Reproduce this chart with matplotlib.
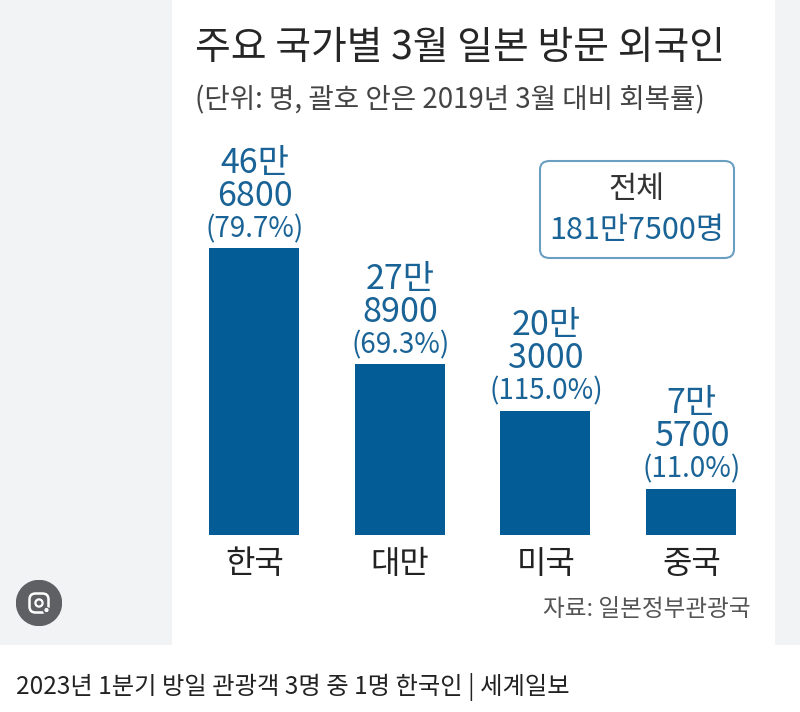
import matplotlib
matplotlib.use("Agg")
import matplotlib.pyplot as plt
from matplotlib.patches import Rectangle, FancyBboxPatch, Circle

plt.rcParams['font.family'] = ['Noto Sans CJK KR', 'DejaVu Sans']

countries = ['한국', '대만', '미국', '중국']
visitors = [468800, 278900, 203000, 75700]
label_man = ['46만', '27만', '20만', '7만']
label_rest = ['6800', '8900', '3000', '5700']
recovery = ['(79.7%)', '(69.3%)', '(115.0%)', '(11.0%)']
title = '주요 국가별 3월 일본 방문 외국인'
subtitle = '(단위: 명, 괄호 안은 2019년 3월 대비 회복률)'
total_lines = ['전체', '181만7500명']
source = '자료: 일본정부관광국'
caption = '2023년 1분기 방일 관광객 3명 중 1명 한국인 | 세계일보'

W, H = 800, 712
BLUE = '#045c96'
LBLUE = '#1a6396'
PX_PER_VISITOR = 0.000612

fig = plt.figure(figsize=(W/100, H/100), dpi=100, facecolor='white')

def px(x, y):
    return x / W, 1 - y / H

def T(x, y, s, size, color='#2b2b2b', ha='center', **kw):
    fx, fy = px(x, y)
    fig.text(fx, fy, s, fontsize=size, color=color, ha=ha, va='center', **kw)

fig.patches.append(Rectangle((0, 1-645/H), 1, 645/H, transform=fig.transFigure,
                             facecolor='#f1f3f5', edgecolor='none', zorder=-3))
fig.patches.append(Rectangle((172/W, 1-645/H), (775-172)/W, 645/H, transform=fig.transFigure,
                             facecolor='white', edgecolor='none', zorder=-2))

ax = fig.add_axes([172/W, 1-535/H, (775-172)/W, 535/H])
ax.patch.set_alpha(0)
ax.set_xlim(-0.563, 3.577)
ax.set_ylim(0, 535/PX_PER_VISITOR)
ax.axis('off')
xs = range(len(countries))
ax.bar(xs, visitors, width=0.618, color=BLUE)

for i, c in enumerate(countries):
    cx = 254.5 + i * 145.67
    T(cx, 564, c, 23, color='#222222')
    top = 535 - visitors[i] * PX_PER_VISITOR
    T(cx, top - 19, recovery[i], 20, color=LBLUE)
    T(cx, top - 52, label_rest[i], 24.5, color=LBLUE)
    T(cx, top - 85, label_man[i], 24.5, color=LBLUE)

T(195, 48, title, 28, ha='left', color='#262626', fontweight='medium')
T(195, 100, subtitle, 19.9, ha='left', color='#444444')

fig.patches.append(FancyBboxPatch((540/W, 1-258/H), 194/W, 97/H,
    boxstyle='round,pad=0,rounding_size=0.012', transform=fig.transFigure,
    facecolor='white', edgecolor='#6a9fc2', linewidth=1.5, mutation_aspect=1))
T(637, 189, total_lines[0], 22, color='#333333')
T(637, 230, total_lines[1], 22, color=LBLUE, fontweight='medium')

T(751, 609, source, 17, ha='right', color='#555555')
T(16, 687, caption, 17.5, ha='left', color='#222222')

ax2 = fig.add_axes([16/W, 1-626/H, 46/W, 46/H])
ax2.set_xlim(0, 46); ax2.set_ylim(46, 0); ax2.axis('off'); ax2.patch.set_alpha(0)
ax2.add_patch(Circle((23, 23), 22.5, color='#5f6063'))
ax2.add_patch(FancyBboxPatch((13.5, 13.5), 19, 19, boxstyle='round,pad=0,rounding_size=6',
                             facecolor='none', edgecolor='white', linewidth=1.8))
ax2.add_patch(Circle((23, 23), 3.6, facecolor='none', edgecolor='white', linewidth=1.6))
ax2.add_patch(Circle((31, 31), 3.2, color='#5f6063'))
ax2.add_patch(Circle((30.5, 30), 1.4, color='white'))

fig.savefig('out.png', dpi=100, facecolor='white')
